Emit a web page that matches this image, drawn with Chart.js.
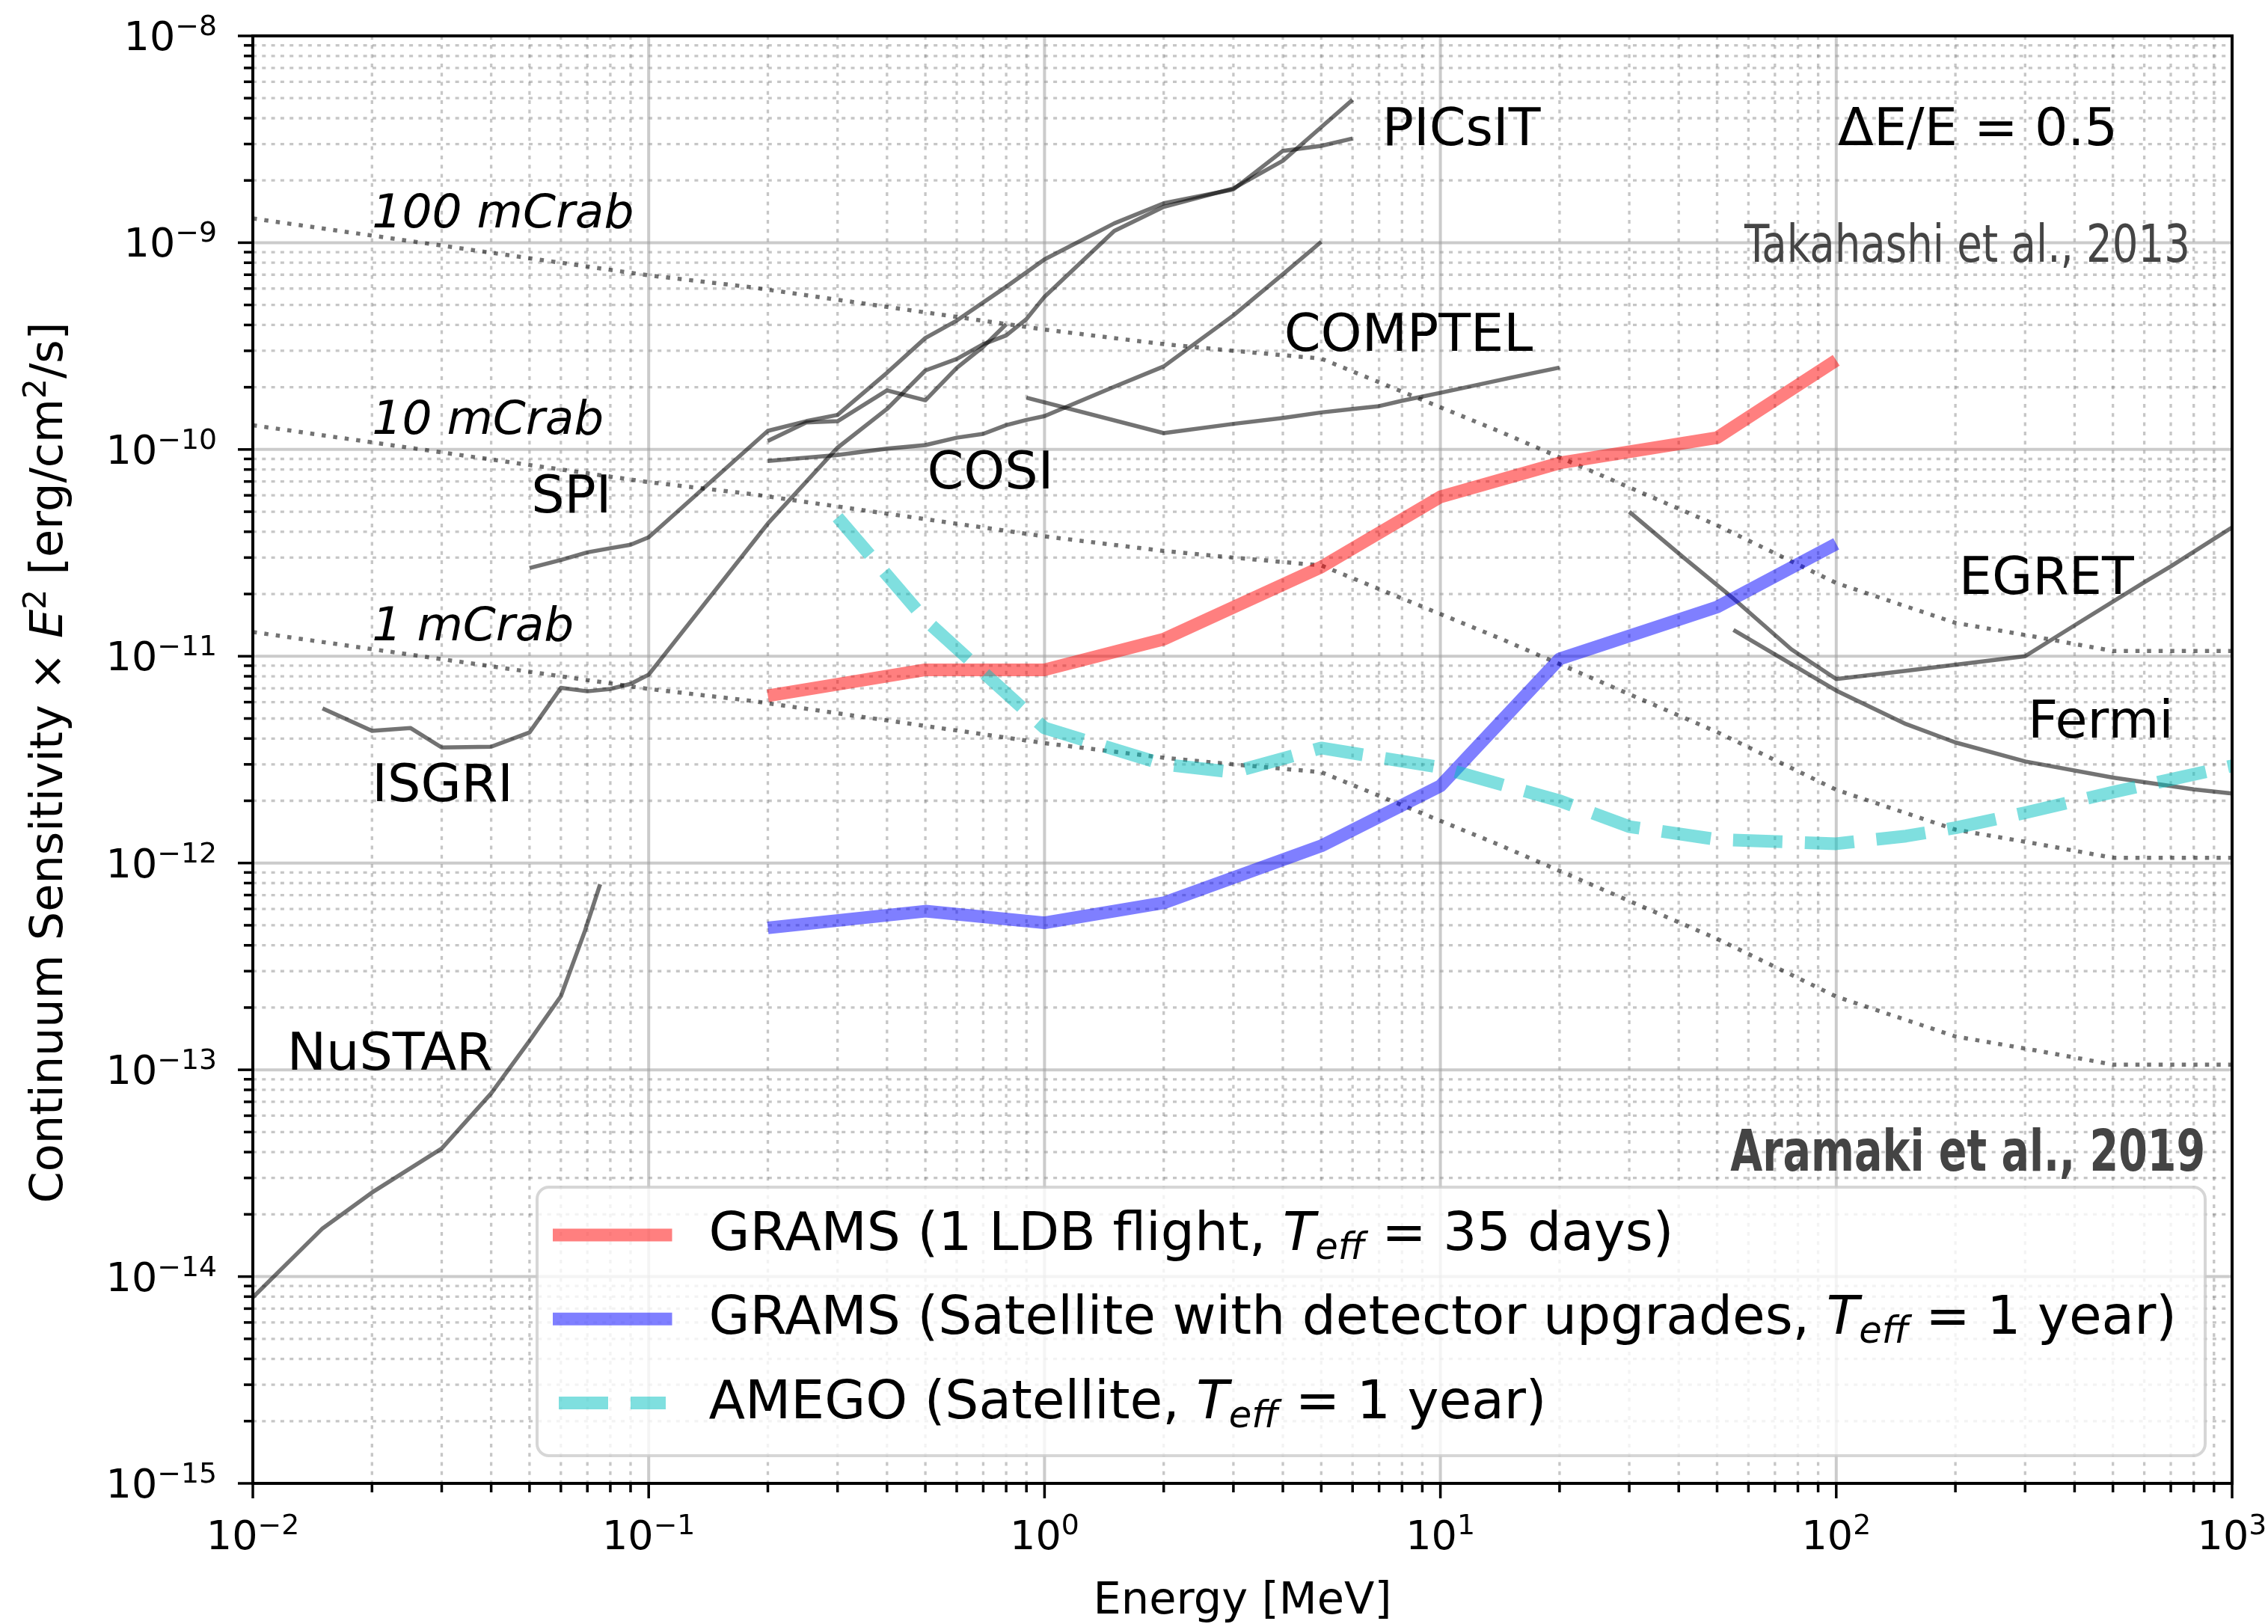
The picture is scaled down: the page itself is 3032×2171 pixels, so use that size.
<!DOCTYPE html>
<html>
<head>
<meta charset="utf-8">
<script src="https://cdn.jsdelivr.net/npm/chart.js@4.4.0/dist/chart.umd.min.js"></script>
<style>
  html, body { margin: 0; padding: 0; background: #fff; }
  canvas { display: block; }
</style>
</head>
<body>
<canvas id="chart" width="3032" height="2171"></canvas>
<script>
// energy in MeV, sensitivity x E^2 in erg/cm2/s
const crabEnergy = [0.01, 0.1, 0.18, 1, 2, 3, 5, 14, 50, 100, 200, 320, 500, 1000];
const crab100 = [1.31e-9, 6.95e-10, 6.1e-10, 3.8e-10, 3.23e-10, 3.0e-10, 2.75e-10, 1.23e-10, 4.3e-11, 2.26e-11, 1.45e-11, 1.24e-11, 1.06e-11, 1.06e-11];
const crab10 = [1.31e-10, 6.95e-11, 6.1e-11, 3.8e-11, 3.23e-11, 3.0e-11, 2.75e-11, 1.23e-11, 4.3e-12, 2.26e-12, 1.45e-12, 1.24e-12, 1.06e-12, 1.06e-12];
const crab1 = [1.31e-11, 6.95e-12, 6.1e-12, 3.8e-12, 3.23e-12, 3.0e-12, 2.75e-12, 1.23e-12, 4.3e-13, 2.26e-13, 1.45e-13, 1.24e-13, 1.06e-13, 1.06e-13];

const nustarE = [0.01, 0.015, 0.02, 0.03, 0.04, 0.05, 0.06, 0.069, 0.0754];
const nustarS = [7.93e-15, 1.71e-14, 2.55e-14, 4.16e-14, 7.69e-14, 1.38e-13, 2.27e-13, 4.69e-13, 7.89e-13];

const isgriE = [0.015, 0.02, 0.025, 0.03, 0.04, 0.05, 0.06, 0.07, 0.08, 0.09, 0.1, 0.2, 0.3, 0.4, 0.5, 0.6, 0.7, 0.8, 0.9, 1, 1.5, 2, 3, 4, 5, 6];
const isgriS = [5.6e-12, 4.36e-12, 4.5e-12, 3.62e-12, 3.65e-12, 4.28e-12, 7.03e-12, 6.77e-12, 6.95e-12, 7.35e-12, 8.15e-12, 4.38e-11, 1.02e-10, 1.57e-10, 2.41e-10, 2.74e-10, 3.23e-10, 3.56e-10, 4.27e-10, 5.48e-10, 1.14e-9, 1.49e-9, 1.83e-9, 2.49e-9, 3.62e-9, 4.91e-9];

const spiE = [0.05, 0.06, 0.07, 0.08, 0.09, 0.1, 0.2, 0.25, 0.3, 0.4, 0.5, 0.6, 0.8, 1, 1.5, 2, 3, 4, 5, 6];
const spiS = [2.67e-11, 2.92e-11, 3.18e-11, 3.33e-11, 3.46e-11, 3.76e-11, 1.23e-10, 1.37e-10, 1.47e-10, 2.35e-10, 3.46e-10, 4.2e-10, 6.12e-10, 8.3e-10, 1.24e-9, 1.55e-9, 1.81e-9, 2.78e-9, 2.94e-9, 3.19e-9];

const picsitE = [0.2, 0.25, 0.3, 0.4, 0.5, 0.6, 0.7, 0.8];
const picsitS = [1.1e-10, 1.35e-10, 1.37e-10, 1.93e-10, 1.73e-10, 2.48e-10, 3.14e-10, 4.03e-10];

const cosiE = [0.2, 0.3, 0.4, 0.5, 0.6, 0.7, 0.8, 0.9, 1, 1.5, 2, 3, 4, 5];
const cosiS = [8.8e-11, 9.4e-11, 1.01e-10, 1.05e-10, 1.14e-10, 1.19e-10, 1.31e-10, 1.39e-10, 1.45e-10, 2.01e-10, 2.52e-10, 4.45e-10, 7.03e-10, 1.01e-9];

const comptelE = [0.9, 2, 3, 4, 5, 6, 7, 8, 10, 15, 20];
const comptelS = [1.78e-10, 1.2e-10, 1.33e-10, 1.42e-10, 1.51e-10, 1.57e-10, 1.62e-10, 1.72e-10, 1.88e-10, 2.22e-10, 2.49e-10];

const egretE = [30, 41, 55, 77, 100, 150, 300, 400, 600, 700, 1000];
const egretS = [5.0e-11, 3.02e-11, 1.9e-11, 1.08e-11, 7.76e-12, 8.5e-12, 1.0e-11, 1.41e-11, 2.28e-11, 2.72e-11, 4.2e-11];

const fermiE = [55, 100, 150, 200, 300, 500, 800, 1000];
const fermiS = [1.34e-11, 6.82e-12, 4.7e-12, 3.83e-12, 3.1e-12, 2.59e-12, 2.27e-12, 2.17e-12];

const gramsE = [0.2, 0.5, 1, 2, 5, 10, 20, 50, 100];
const gramsLdbS = [6.44e-12, 8.6e-12, 8.6e-12, 1.21e-11, 2.7e-11, 5.9e-11, 8.6e-11, 1.14e-10, 2.7e-10];
const gramsSatS = [4.86e-13, 5.85e-13, 5.14e-13, 6.42e-13, 1.21e-12, 2.36e-12, 9.7e-12, 1.73e-11, 3.5e-11];

const amegoE = [0.3, 0.5, 1, 2, 3, 5, 10, 20, 30, 50, 100, 150, 200, 300, 500, 1000];
const amegoS = [4.7e-11, 1.5e-11, 4.5e-12, 3.0e-12, 2.75e-12, 3.6e-12, 2.9e-12, 2.0e-12, 1.5e-12, 1.3e-12, 1.24e-12, 1.35e-12, 1.48e-12, 1.75e-12, 2.2e-12, 2.95e-12];

const xMajor = [1e-2, 1e-1, 1, 10, 100, 1000];
const xMajorExp = ['\u22122', '\u22121', '0', '1', '2', '3'];
const yMajor = [1e-15, 1e-14, 1e-13, 1e-12, 1e-11, 1e-10, 1e-9, 1e-8];
const yMajorExp = ['\u221215', '\u221214', '\u221213', '\u221212', '\u221211', '\u221210', '\u22129', '\u22128'];

const FONT = "'DejaVu Sans', sans-serif";
const CONDENSED = "'DejaVu Sans Condensed', 'Liberation Sans Narrow', 'DejaVu Sans', sans-serif";
const GRAY = 'rgba(0,0,0,0.55)';

const pts = (xs, ys) => xs.map((x, i) => ({ x, y: ys[i] }));

const minorOf = (majors) => {
  const out = [];
  for (let i = 0; i < majors.length - 1; i++) {
    for (let k = 2; k <= 9; k++) out.push(majors[i] * k);
  }
  return out;
};

const crabLine = (label, ys) => ({
  label, data: pts(crabEnergy, ys), borderColor: GRAY, borderWidth: 5.5,
  borderDash: [5.5, 10], borderCapStyle: 'butt', order: 5,
});
const instLine = (label, xs, ys) => ({
  label, data: pts(xs, ys), borderColor: GRAY, borderWidth: 5.5, order: 4,
});

const datasets = [
  { label: 'AMEGO', data: pts(amegoE, amegoS), borderColor: 'rgba(0,191,191,0.5)', borderWidth: 17, borderDash: [66, 30], order: 0 },
  { label: 'GRAMS sat', data: pts(gramsE, gramsSatS), borderColor: 'rgba(0,0,255,0.5)', borderWidth: 17, order: 1 },
  { label: 'GRAMS ldb', data: pts(gramsE, gramsLdbS), borderColor: 'rgba(255,0,0,0.5)', borderWidth: 17, order: 2 },
  instLine('NuSTAR', nustarE, nustarS),
  instLine('ISGRI', isgriE, isgriS),
  instLine('SPI', spiE, spiS),
  instLine('PICsIT', picsitE, picsitS),
  instLine('COSI', cosiE, cosiS),
  instLine('COMPTEL', comptelE, comptelS),
  instLine('EGRET', egretE, egretS),
  instLine('Fermi', fermiE, fermiS),
  crabLine('100 mCrab', crab100),
  crabLine('10 mCrab', crab10),
  crabLine('1 mCrab', crab1),
];

const annotations = [
  { text: '100 mCrab', x: 0.02, y: 1.19e-9, size: 63, italic: true },
  { text: '10 mCrab', x: 0.02, y: 1.19e-10, size: 63, italic: true },
  { text: '1 mCrab', x: 0.02, y: 1.19e-11, size: 63, italic: true },
  { text: 'SPI', x: 0.0505, y: 4.95e-11, size: 70 },
  { text: 'ISGRI', x: 0.02, y: 2.0e-12, size: 70 },
  { text: 'NuSTAR', x: 0.0122, y: 1.0e-13, size: 70 },
  { text: 'COSI', x: 0.505, y: 6.5e-11, size: 70 },
  { text: 'COMPTEL', x: 4.03, y: 3.0e-10, size: 70 },
  { text: 'PICsIT', x: 7.13, y: 2.96e-9, size: 70 },
  { text: 'EGRET', x: 204, y: 2.0e-11, size: 70 },
  { text: 'Fermi', x: 305, y: 4.06e-12, size: 70 },
  { text: '\u0394E/E = 0.5', x: 101, y: 2.96e-9, size: 70, width: 374 },
  { text: 'Takahashi et al., 2013', x: 58.6, y: 8.07e-10, size: 70, width: 596, color: '#454545', family: CONDENSED },
  { text: 'Aramaki et al., 2019', x: 54.0, y: 3.26e-14, size: 77, width: 635, color: '#444', bold: true, family: CONDENSED },
];

const legendItems = [
  { dataset: 'GRAMS ldb', segs: [['GRAMS (1 LDB flight, ', 'n'], ['T', 'i'], ['eff', 'isub'], [' = 35 days)', 'n']] },
  { dataset: 'GRAMS sat', segs: [['GRAMS (Satellite with detector upgrades, ', 'n'], ['T', 'i'], ['eff', 'isub'], [' = 1 year)', 'n']] },
  { dataset: 'AMEGO', segs: [['AMEGO (Satellite, ', 'n'], ['T', 'i'], ['eff', 'isub'], [' = 1 year)', 'n']] },
];

const yTitle = [['Continuum Sensitivity \u00d7 ', 'n'], ['E', 'i'], ['2', 'sup'], [' [erg/cm', 'n'], ['2', 'sup'], ['/s]', 'n']];

function segFont(kind, size) {
  const s = (kind === 'sup' || kind === 'isub') ? size * 0.7 : size;
  const it = (kind === 'i' || kind === 'isub') ? 'italic ' : '';
  return `${it}${s}px ${FONT}`;
}

function segDy(kind, size) {
  if (kind === 'sup') return -0.37 * size;
  if (kind === 'isub') return 0.17 * size;
  return 0;
}

function drawRich(ctx, segs, x, y, size, align) {
  let w = 0;
  segs.forEach(([t, k]) => { ctx.font = segFont(k, size); w += ctx.measureText(t).width; });
  let cx = x;
  if (align === 'center') cx -= w / 2;
  if (align === 'right') cx -= w;
  ctx.textAlign = 'left';
  ctx.textBaseline = 'alphabetic';
  segs.forEach(([t, k]) => {
    ctx.font = segFont(k, size);
    ctx.fillText(t, cx, y + segDy(k, size));
    cx += ctx.measureText(t).width;
  });
}

function hline(ctx, x0, x1, y) {
  ctx.beginPath(); ctx.moveTo(x0, y); ctx.lineTo(x1, y); ctx.stroke();
}
function vline(ctx, x, y0, y1) {
  ctx.beginPath(); ctx.moveTo(x, y0); ctx.lineTo(x, y1); ctx.stroke();
}

const mplAxes = {
  id: 'mplAxes',
  beforeDatasetsDraw(chart) {
    const { ctx, chartArea: ca, scales: { x, y } } = chart;
    ctx.save();
    ctx.beginPath();
    ctx.rect(ca.left, ca.top, ca.right - ca.left, ca.bottom - ca.top);
    ctx.clip();

    ctx.strokeStyle = 'rgba(128,128,128,0.45)';
    ctx.lineWidth = 3.3;
    ctx.setLineDash([5, 7.3]);
    minorOf(xMajor).forEach(v => vline(ctx, x.getPixelForValue(v), ca.top, ca.bottom));
    minorOf(yMajor).forEach(v => hline(ctx, ca.left, ca.right, y.getPixelForValue(v)));

    ctx.setLineDash([]);
    ctx.strokeStyle = 'rgba(160,160,160,0.55)';
    ctx.lineWidth = 4;
    xMajor.forEach(v => vline(ctx, x.getPixelForValue(v), ca.top, ca.bottom));
    yMajor.forEach(v => hline(ctx, ca.left, ca.right, y.getPixelForValue(v)));
    ctx.restore();
  },
  afterDatasetsDraw(chart) {
    const { ctx, chartArea: ca, scales: { x, y } } = chart;
    ctx.save();

    // annotations
    annotations.forEach(a => {
      const px = x.getPixelForValue(a.x);
      const py = y.getPixelForValue(a.y);
      ctx.font = `${a.italic ? 'italic ' : ''}${a.bold ? 'bold ' : ''}${a.size}px ${a.family || FONT}`;
      ctx.fillStyle = a.color || '#000';
      ctx.textAlign = 'left';
      ctx.textBaseline = 'alphabetic';
      if (a.width) {
        const sx = a.width / ctx.measureText(a.text).width;
        ctx.save();
        ctx.translate(px, py);
        ctx.scale(sx, 1);
        ctx.fillText(a.text, 0, 0);
        ctx.restore();
      } else {
        ctx.fillText(a.text, px, py);
      }
    });

    // legend
    const lx0 = ca.left + 380, ly0 = ca.top + 1539;
    const lx1 = ca.right - 36, ly1 = ca.bottom - 37;
    ctx.beginPath();
    ctx.roundRect(lx0, ly0, lx1 - lx0, ly1 - ly0, 16);
    ctx.fillStyle = 'rgba(255,255,255,0.8)';
    ctx.fill();
    ctx.strokeStyle = 'rgba(204,204,204,0.8)';
    ctx.lineWidth = 4;
    ctx.stroke();
    legendItems.forEach((item, i) => {
      const ds = chart.data.datasets.find(d => d.label === item.dataset);
      const ry = ly0 + 64 + i * 112.3;
      ctx.save();
      ctx.strokeStyle = ds.borderColor;
      ctx.lineWidth = ds.borderWidth;
      ctx.lineCap = 'butt';
      ctx.setLineDash(ds.borderDash || []);
      if (ds.borderDash) hline(ctx, lx0 + 29, lx0 + 172, ry);
      else hline(ctx, lx0 + 21, lx0 + 180.5, ry);
      ctx.restore();
      ctx.fillStyle = '#000';
      drawRich(ctx, item.segs, lx0 + 229.5, ry + 20, 71, 'left');
    });

    // spines
    ctx.strokeStyle = '#000';
    ctx.lineWidth = 4;
    ctx.setLineDash([]);
    ctx.strokeRect(ca.left, ca.top, ca.right - ca.left, ca.bottom - ca.top);

    // ticks
    ctx.lineWidth = 3.5;
    xMajor.forEach(v => vline(ctx, x.getPixelForValue(v), ca.bottom, ca.bottom + 20));
    minorOf(xMajor).forEach(v => vline(ctx, x.getPixelForValue(v), ca.bottom, ca.bottom + 12));
    yMajor.forEach(v => hline(ctx, ca.left - 20, ca.left, y.getPixelForValue(v)));
    minorOf(yMajor).forEach(v => hline(ctx, ca.left - 12, ca.left, y.getPixelForValue(v)));

    // tick labels
    ctx.fillStyle = '#000';
    xMajor.forEach((v, i) => {
      drawRich(ctx, [['10', 'n'], [xMajorExp[i], 'sup']], x.getPixelForValue(v), ca.bottom + 88, 54, 'center');
    });
    yMajor.forEach((v, i) => {
      drawRich(ctx, [['10', 'n'], [yMajorExp[i], 'sup']], ca.left - 48, y.getPixelForValue(v) + 19, 54, 'right');
    });

    // axis titles
    drawRich(ctx, [['Energy [MeV]', 'n']], (ca.left + ca.right) / 2, ca.bottom + 174, 59, 'center');
    ctx.save();
    ctx.translate(83, (ca.top + ca.bottom) / 2 + 4);
    ctx.rotate(-Math.PI / 2);
    drawRich(ctx, yTitle, 0, 0, 60.5, 'center');
    ctx.restore();

    ctx.restore();
  }
};

const logAxis = (min, max, fit) => ({
  type: 'logarithmic', min, max,
  ticks: { display: false },
  grid: { display: false },
  border: { display: false },
  afterFit: fit,
});

new Chart(document.getElementById('chart'), {
  type: 'line',
  data: { datasets },
  options: {
    responsive: false,
    devicePixelRatio: 1,
    animation: false,
    layout: { padding: { top: 48, right: 48, left: 0, bottom: 0 } },
    elements: {
      point: { radius: 0 },
      line: { tension: 0, fill: false, borderJoinStyle: 'round', borderCapStyle: 'butt' },
    },
    plugins: { legend: { display: false }, tooltip: { enabled: false } },
    scales: {
      x: logAxis(0.01, 1000, (s) => { s.height = 188; }),
      y: logAxis(1e-15, 1e-8, (s) => { s.width = 338; }),
    },
  },
  plugins: [mplAxes],
});
</script>
</body>
</html>
